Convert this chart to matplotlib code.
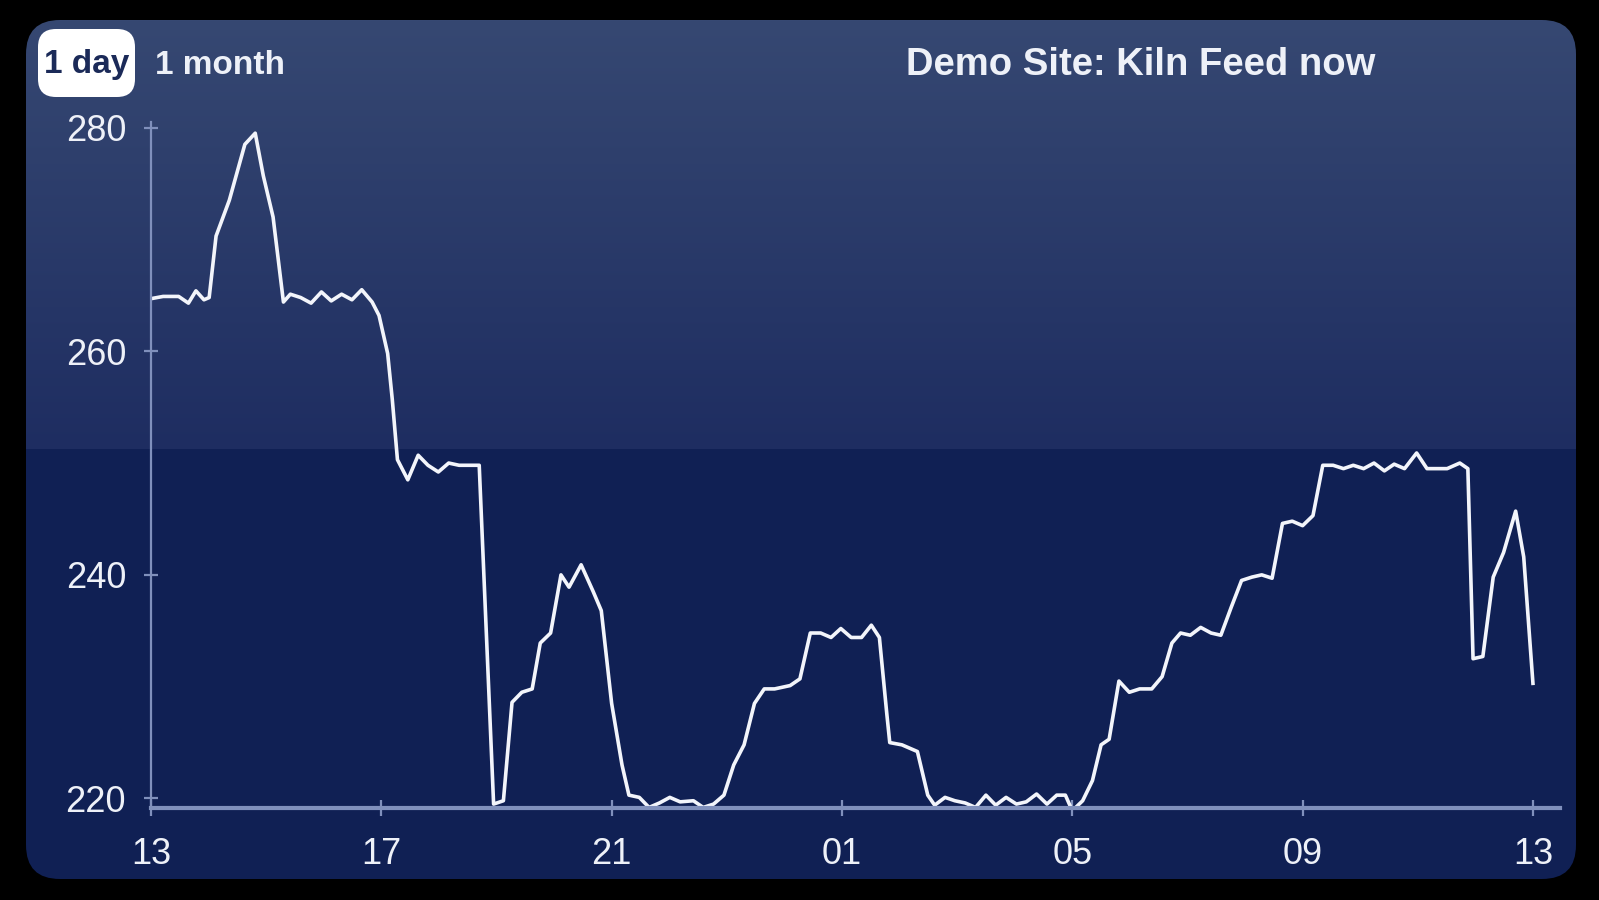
import numpy as np
import matplotlib.pyplot as plt
from matplotlib.patches import FancyBboxPatch

# hours since 13:00 and kiln feed value
hours = [0.00, 0.21, 0.48, 0.65, 0.78, 0.92, 1.01, 1.13, 1.36, 1.63, 1.81, 1.95, 2.12, 2.30,
         2.42, 2.60, 2.78, 2.96, 3.13, 3.31, 3.49, 3.66, 3.84, 3.96, 4.11, 4.19, 4.28, 4.46,
         4.64, 4.81, 4.99, 5.17, 5.35, 5.61, 5.70, 5.95, 6.12, 6.27, 6.44, 6.62, 6.76, 6.94,
         7.12, 7.26, 7.47, 7.68, 7.82, 8.00, 8.18, 8.30, 8.48, 8.65, 8.83, 9.01, 9.19, 9.42,
         9.59, 9.77, 9.95, 10.12, 10.30, 10.48, 10.65, 10.83, 11.10, 11.27, 11.45, 11.63,
         11.81, 11.98, 12.16, 12.34, 12.51, 12.65, 12.78, 12.83, 13.04, 13.31, 13.49, 13.61,
         13.79, 13.96, 14.14, 14.32, 14.50, 14.67, 14.85, 15.03, 15.20, 15.38, 15.56, 15.73,
         15.88, 16.00, 16.18, 16.35, 16.50, 16.64, 16.81, 16.99, 17.17, 17.38, 17.56, 17.73,
         17.88, 18.05, 18.23, 18.41, 18.58, 18.76, 18.94, 19.12, 19.29, 19.47, 19.65, 19.82,
         20.00, 20.18, 20.35, 20.53, 20.71, 20.88, 21.06, 21.24, 21.42, 21.59, 21.77, 21.98,
         22.16, 22.34, 22.51, 22.73, 22.87, 22.96, 23.13, 23.31, 23.49, 23.70, 23.84, 24.00]
feed = [264.7, 264.9, 264.9, 264.3, 265.4, 264.6, 264.8, 270.3, 273.5, 278.5, 279.5, 275.7, 272.0, 264.4,
        265.1, 264.8, 264.3, 265.3, 264.5, 265.1, 264.6, 265.5, 264.4, 263.2, 259.8, 255.7, 250.3, 248.5,
        250.7, 249.8, 249.2, 250.0, 249.8, 249.8, 249.8, 219.5, 219.8, 228.6, 229.5, 229.8, 233.9, 234.8,
        240.0, 238.9, 240.9, 238.5, 236.8, 228.5, 223.0, 220.3, 220.1, 219.2, 219.6, 220.1, 219.7, 219.8,
        219.2, 219.5, 220.3, 223.0, 224.8, 228.5, 229.8, 229.8, 230.1, 230.7, 234.8, 234.8,
        234.4, 235.2, 234.4, 234.4, 235.5, 234.4, 227.5, 225.0, 224.8, 224.2, 220.3, 219.4,
        220.1, 219.8, 219.6, 219.2, 220.3, 219.4, 220.1, 219.5, 219.7, 220.4, 219.5, 220.3,
        220.3, 218.9, 219.8, 221.6, 224.8, 225.3, 230.5, 229.5, 229.8, 229.8, 230.9, 233.9,
        234.8, 234.6, 235.3, 234.8, 234.6, 237.1, 239.5, 239.8, 240.0, 239.7, 244.6, 244.8,
        244.4, 245.3, 249.8, 249.8, 249.5, 249.8, 249.5, 250.0, 249.3, 249.9, 249.5, 250.9,
        249.5, 249.5, 249.5, 250.0, 249.5, 232.5, 232.7, 239.8, 242.0, 245.7, 241.6, 230.3]

xticks = [0, 4, 8, 12, 16, 20, 24]
xlabels = ['13', '17', '21', '01', '05', '09', '13']
yticks = [220, 240, 260, 280]

title = 'Demo Site: Kiln Feed now'
font = 'Liberation Sans'
axis_col = '#8090bc'

fig = plt.figure(figsize=(15.99, 9.0), dpi=100, facecolor='black')

# background panel with gradient, in pixel coords
bg = fig.add_axes([0, 0, 1, 1])
bg.set_xlim(0, 1599)
bg.set_ylim(900, 0)
bg.set_axis_off()
panel = FancyBboxPatch((26, 20), 1550, 859, boxstyle='round,pad=0,rounding_size=34',
                       facecolor='none', edgecolor='none')
bg.add_patch(panel)
rows = np.arange(20, 879)
top = np.array([0x36, 0x48, 0x72]) / 255
mid = np.array([0x1e, 0x2d, 0x61]) / 255
low = np.array([0x10, 0x20, 0x54]) / 255
split = 449
grad = np.zeros((len(rows), 1, 3))
for i, r in enumerate(rows):
    if r < split:
        t = (r - 20) / (split - 20)
        grad[i, 0] = top * (1 - t) + mid * t
    else:
        grad[i, 0] = low
im = bg.imshow(grad, extent=(26, 1576, 879, 20), aspect='auto', origin='upper',
               interpolation='nearest')
im.set_clip_path(panel)

# "1 day" button and "1 month"
btn = FancyBboxPatch((38, 29), 97, 68, boxstyle='round,pad=0,rounding_size=18',
                     facecolor='white', edgecolor='none')
bg.add_patch(btn)
bg.text(87, 65, '1 day', fontsize=24, fontweight='bold', family=font,
        color='#1b2a58', ha='center', va='center')
bg.text(155, 65, '1 month', fontsize=24, fontweight='bold', family=font,
        color='#eef1f8', ha='left', va='center')
bg.text(1141, 65, title, fontsize=27.5, fontweight='bold', family=font,
        color='#eef1f8', ha='center', va='center')

# main chart
ax = fig.add_axes([151 / 1599, 1 - 808 / 900, (1560 - 151) / 1599, (808 - 122) / 900])
ax.patch.set_alpha(0)
ax.plot(hours, feed, color='#f3f5fb', lw=2.6, solid_joinstyle='round')
ax.set_xlim(0, 24.47)
ax.set_ylim(219.15, 280.5)
ax.set_xticks(xticks)
ax.set_xticklabels(xlabels)
ax.set_yticks(yticks)
for s in ['top', 'right']:
    ax.spines[s].set_visible(False)
ax.spines['left'].set_color(axis_col)
ax.spines['left'].set_linewidth(1.6)
ax.spines['bottom'].set_color(axis_col)
ax.spines['bottom'].set_linewidth(3)
ax.tick_params(axis='both', direction='inout', color=axis_col, width=1.6,
               labelcolor='#eef1f8', labelsize=26)
ax.tick_params(axis='y', length=10, pad=13)
ax.tick_params(axis='x', length=12, pad=15)
for lab in ax.get_xticklabels() + ax.get_yticklabels():
    lab.set_family(font)

fig.savefig('out.png', dpi=100, facecolor='black')
